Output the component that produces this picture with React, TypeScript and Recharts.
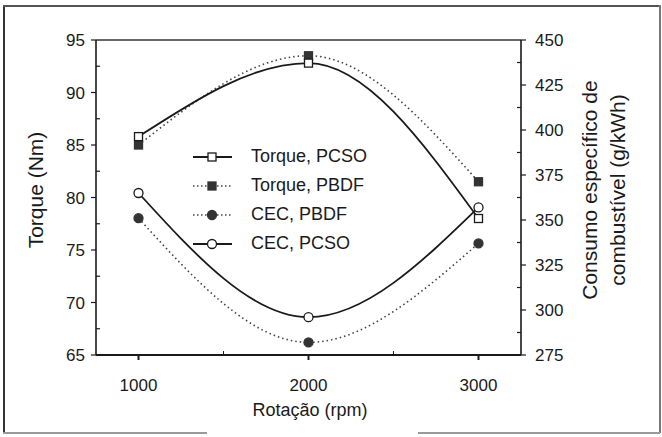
import React from "react"
import { LineChart, Line, XAxis, YAxis, Legend, ReferenceLine } from "recharts"

const rpm = [1000, 2000, 3000]
const torquePCSO = [85.8, 92.8, 78.0]
const torquePBDF = [85.0, 93.5, 81.5]
const cecPBDF = [351, 282, 337]
const cecPCSO = [365, 296, 357]

const xTicks = [1000, 1500, 2000, 2500, 3000]
const xLabels = [1000, 2000, 3000]
const torqueTicks = [65, 67.5, 70, 72.5, 75, 77.5, 80, 82.5, 85, 87.5, 90, 92.5, 95]
const torqueLabels = [65, 70, 75, 80, 85, 90, 95]
const cecTicks = [275, 287.5, 300, 312.5, 325, 337.5, 350, 362.5, 375, 387.5, 400, 412.5, 425, 437.5, 450]
const cecLabels = [275, 300, 325, 350, 375, 400, 425, 450]

const data = rpm.map((r, i) => ({
  rpm: r,
  torquePCSO: torquePCSO[i],
  torquePBDF: torquePBDF[i],
  cecPBDF: cecPBDF[i],
  cecPCSO: cecPCSO[i],
}))

const FONT = "'Liberation Sans', Arial, sans-serif"
const INK = "#1a1a1a"

const legendItems = [
  { name: "Torque, PCSO", shape: "square", filled: false, dotted: false },
  { name: "Torque, PBDF", shape: "square", filled: true, dotted: true },
  { name: "CEC, PBDF", shape: "circle", filled: true, dotted: true },
  { name: "CEC, PCSO", shape: "circle", filled: false, dotted: false },
]

function marker(shape: string, filled: boolean, cx: number, cy: number, key?: any) {
  const fill = filled ? "#333" : "#fff"
  const stroke = filled ? "#333" : INK
  if (shape === "square") {
    return <rect key={key} x={cx - 4} y={cy - 4} width={8} height={8} fill={fill} stroke={stroke} strokeWidth={1.3} />
  }
  return <circle key={key} cx={cx} cy={cy} r={4.5} fill={fill} stroke={stroke} strokeWidth={1.3} />
}

const dotFor = (shape: string, filled: boolean) => (p: any) =>
  marker(shape, filled, p.cx, p.cy, `${shape}-${filled}-${p.index}`)

function XTick(props: any) {
  const { x, y, payload } = props
  const major = xLabels.includes(payload.value)
  return (
    <g>
      <line x1={x} x2={x} y1={y} y2={major ? y + 5 : y - 4} stroke={INK} strokeWidth={major ? 2 : 1} />
      {major && (
        <text x={x} y={y + 36} textAnchor="middle" fontSize={17} fontFamily={FONT} fill={INK}>
          {payload.value}
        </text>
      )}
    </g>
  )
}

function LeftTick(props: any) {
  const { x, y, payload } = props
  const major = torqueLabels.includes(payload.value)
  return (
    <g>
      <line x1={x} x2={major ? x - 5 : x + 4} y1={y} y2={y} stroke={INK} strokeWidth={1.2} />
      {major && (
        <text x={x - 11} y={y + 6} textAnchor="end" fontSize={17} fontFamily={FONT} fill={INK}>
          {payload.value}
        </text>
      )}
    </g>
  )
}

function RightTick(props: any) {
  const { x, y, payload } = props
  const major = cecLabels.includes(payload.value)
  return (
    <g>
      <line x1={x} x2={major ? x + 5 : x - 4} y1={y} y2={y} stroke={INK} strokeWidth={1.2} />
      {major && (
        <text x={x + 14} y={y + 6} textAnchor="start" fontSize={17} fontFamily={FONT} fill={INK}>
          {payload.value}
        </text>
      )}
    </g>
  )
}

function LegendBox() {
  return (
    <div style={{ fontFamily: FONT, fontSize: 18, color: INK }}>
      {legendItems.map((it) => (
        <div key={it.name} style={{ display: "flex", alignItems: "center", height: 29 }}>
          <svg width={42} height={14} style={{ marginRight: 17 }}>
            <line
              x1={1}
              x2={40}
              y1={7}
              y2={7}
              stroke={it.dotted ? "#444" : INK}
              strokeWidth={it.dotted ? 1.6 : 1.8}
              strokeDasharray={it.dotted ? "1.5 2.5" : undefined}
            />
            {marker(it.shape, it.filled, 20, 7)}
          </svg>
          <span>{it.name}</span>
        </div>
      ))}
    </div>
  )
}

export default function App() {
  return (
    <div style={{ position: "relative", width: 662, height: 437, background: "#fff", overflow: "hidden" }}>
      <style>{`body{margin:0}`}</style>

      {/* frame */}
      <div style={{ position: "absolute", left: 3, top: 5, width: 1.5, height: 428, background: "#333" }} />
      <div style={{ position: "absolute", left: 3, top: 5, width: 657, height: 1.5, background: "#555" }} />
      <div style={{ position: "absolute", left: 659, top: 5, width: 1.5, height: 428, background: "#777" }} />
      <div style={{ position: "absolute", left: 3, top: 432, width: 204, height: 1.5, background: "#999" }} />
      <div style={{ position: "absolute", left: 418, top: 432, width: 242, height: 1.5, background: "#999" }} />

      <LineChart width={662} height={437} data={data} margin={{ top: 40, right: 81, bottom: 52, left: 36 }}>
        <XAxis
          dataKey="rpm"
          type="number"
          domain={[750, 3250]}
          ticks={xTicks}
          allowDataOverflow
          height={30}
          tickSize={0}
          tickMargin={0}
          tickLine={false}
          axisLine={{ stroke: INK, strokeWidth: 2 }}
          tick={<XTick />}
          interval={0}
        />
        <YAxis
          yAxisId="left"
          domain={[65, 95]}
          ticks={torqueTicks}
          width={60}
          tickSize={0}
          tickMargin={0}
          tickLine={false}
          axisLine={{ stroke: INK, strokeWidth: 1.6 }}
          tick={<LeftTick />}
          interval={0}
        />
        <YAxis
          yAxisId="right"
          orientation="right"
          domain={[275, 450]}
          ticks={cecTicks}
          width={60}
          tickSize={0}
          tickMargin={0}
          tickLine={false}
          axisLine={{ stroke: INK, strokeWidth: 1.6 }}
          tick={<RightTick />}
          interval={0}
        />
        <ReferenceLine yAxisId="left" y={95} stroke="#333" strokeWidth={1.6} />

        <Line yAxisId="left" dataKey="torquePBDF" type="monotone" stroke="#444" strokeWidth={1.6}
          strokeDasharray="1.5 3" dot={dotFor("square", true)} isAnimationActive={false} />
        <Line yAxisId="left" dataKey="torquePCSO" type="monotone" stroke={INK} strokeWidth={1.8}
          dot={dotFor("square", false)} isAnimationActive={false} />
        <Line yAxisId="right" dataKey="cecPBDF" type="monotone" stroke="#444" strokeWidth={1.6}
          strokeDasharray="1.5 3" dot={dotFor("circle", true)} isAnimationActive={false} />
        <Line yAxisId="right" dataKey="cecPCSO" type="monotone" stroke={INK} strokeWidth={1.8}
          dot={dotFor("circle", false)} isAnimationActive={false} />

        <Legend
          layout="vertical"
          align="center"
          verticalAlign="middle"
          content={<LegendBox />}
          wrapperStyle={{ left: 192, top: 142, width: 200, height: 120 }}
        />
      </LineChart>

      {/* axis titles */}
      <div style={{ position: "absolute", left: 36, top: 190, transform: "translate(-50%,-50%) rotate(-90deg)",
        fontFamily: FONT, fontSize: 21, color: INK, whiteSpace: "nowrap" }}>
        Torque (Nm)
      </div>
      <div style={{ position: "absolute", left: 604, top: 190, transform: "translate(-50%,-50%) rotate(-90deg)",
        fontFamily: FONT, fontSize: 21, lineHeight: "28px", color: INK, whiteSpace: "nowrap", textAlign: "center" }}>
        Consumo específico de<br />combustível (g/kWh)
      </div>
      <div style={{ position: "absolute", left: 310, top: 410, transform: "translate(-50%,-50%)",
        fontFamily: FONT, fontSize: 18, color: INK, whiteSpace: "nowrap" }}>
        Rotação (rpm)
      </div>
    </div>
  )
}
